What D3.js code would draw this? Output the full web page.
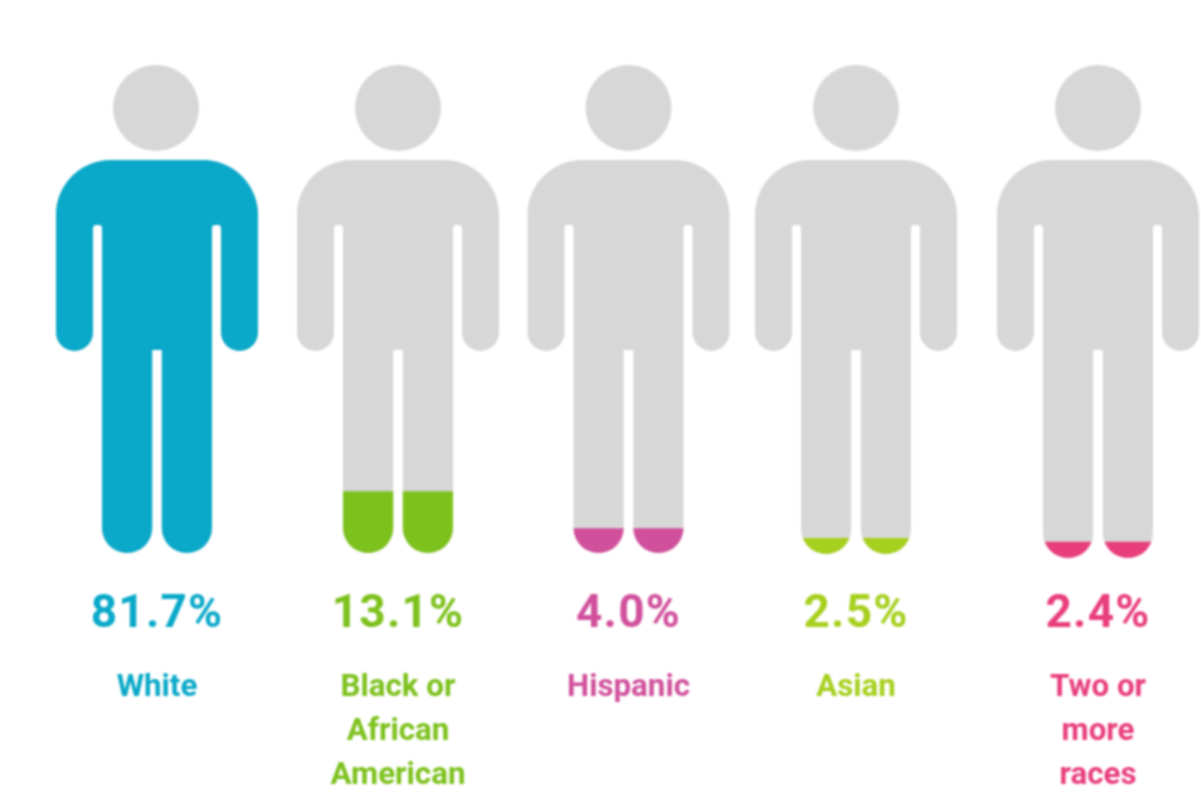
<!DOCTYPE html>
<html><head><meta charset="utf-8">
<script src="https://cdn.jsdelivr.net/npm/d3@7"></script>
<style>html,body{margin:0;background:#fff}svg{display:block;filter:blur(0.8px)}</style>
</head><body><div id="chart"></div>
<script>
const categories = ["White","Black or African American","Hispanic","Asian","Two or more races"];
const values = [81.7,13.1,4.0,2.5,2.4];
// visible filled share of each figure (head top to foot)
const fillShares = [81.7,12.7,5.1,3.3,3.3];
const colors = ["#0aa9c9","#7dc11d","#d0509c","#a6d01e","#e83e7c"];
const labelLines = [["White"],["Black or","African","American"],["Hispanic"],["Asian"],["Two or","more","races"]];
const figureFeet = [553,553,553,554,558];

const width=1201,height=810,headTop=66,headCy=108,headR=43,bodyTop=160;
const x=d3.scaleOrdinal().domain(categories).range([157,398,628.5,856,1098]);
const svg=d3.select("#chart").append("svg").attr("width",width).attr("height",height);
svg.append("rect").attr("width",width).attr("height",height).attr("fill","#fff");
const defs=svg.append("defs");

function bodyPath(foot){
  const p=d3.path(), t=bodyTop, W=101, A=64, T=55, G=4.8, armEnd=351, pit=225, crotch=350, r=18.5, s=3;
  const R=(T-G)/2, L=(T+G)/2;
  p.moveTo(-46,t);
  p.lineTo(46,t);
  p.bezierCurveTo(77,t,W,t+25,W,t+55);
  p.lineTo(W,armEnd-r);
  p.arc(W-r,armEnd-r,r,0,Math.PI);
  p.lineTo(A,pit+s);
  p.quadraticCurveTo(A,pit,A-s,pit);
  p.lineTo(T+s,pit);
  p.quadraticCurveTo(T,pit,T,pit+s);
  p.lineTo(T,foot-R);
  p.arc(L,foot-R,R,0,Math.PI);
  p.lineTo(G,crotch);
  p.lineTo(-G,crotch);
  p.lineTo(-G,foot-R);
  p.arc(-L,foot-R,R,0,Math.PI);
  p.lineTo(-T,pit+s);
  p.quadraticCurveTo(-T,pit,-T-s,pit);
  p.lineTo(-A+s,pit);
  p.quadraticCurveTo(-A,pit,-A,pit+s);
  p.lineTo(-A,armEnd-r);
  p.arc(-W+r,armEnd-r,r,0,Math.PI);
  p.lineTo(-W,t+55);
  p.bezierCurveTo(-W,t+25,-77,t,-46,t);
  p.closePath();
  return p.toString();
}

const g=svg.selectAll("g.fig").data(categories.map((c,i)=>({c,i}))).join("g").attr("class","fig")
  .attr("transform",d=>`translate(${x(d.c)},0)`);
g.append("circle").attr("cx",d=>d.i===0?-1:0).attr("cy",headCy).attr("r",headR).attr("fill","#d7d7d7");
g.append("path").attr("d",d=>bodyPath(figureFeet[d.i])).attr("fill","#d7d7d7");
g.each(function(d){
  const y=d3.scaleLinear().domain([0,100]).range([figureFeet[d.i],headTop]);
  defs.append("clipPath").attr("id","clip"+d.i).append("rect")
    .attr("x",-120).attr("width",240).attr("y",y(fillShares[d.i])).attr("height",figureFeet[d.i]-y(fillShares[d.i]));
});
g.append("path").attr("d",d=>bodyPath(figureFeet[d.i])).attr("fill",d=>colors[d.i]).attr("clip-path",d=>`url(#clip${d.i})`);

g.append("text").attr("y",627).attr("text-anchor","middle")
  .attr("font-family","Roboto").attr("font-weight",700).attr("font-size",46).attr("letter-spacing",1.2)
  .attr("fill",d=>colors[d.i]).text(d=>values[d.i].toFixed(1)+"%");
g.each(function(d){
  d3.select(this).selectAll("text.lab").data(labelLines[d.i]).join("text").attr("class","lab")
    .attr("y",(l,j)=>696+j*43.75).attr("text-anchor","middle")
    .attr("font-family","Roboto").attr("font-weight",700).attr("font-size",31.3)
    .attr("fill",colors[d.i]).text(l=>l);
});
</script></body></html>
